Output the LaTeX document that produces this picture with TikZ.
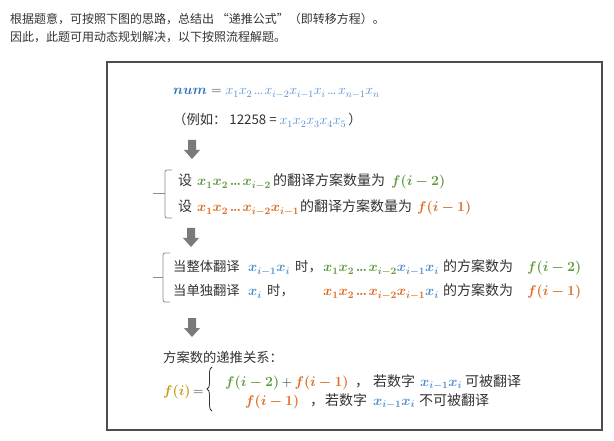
\RequirePackage{fix-cm}
\documentclass[tikz,border=0pt]{standalone}
\usepackage{amsmath}
\usepackage{bm}
\usepackage{fontspec}
\newfontfamily\cjk{Noto Sans CJK SC}
\usetikzlibrary{decorations.pathreplacing}
\definecolor{textgray}{HTML}{333333}
\definecolor{numblue}{HTML}{2E75B6}
\definecolor{xblue}{HTML}{4F8FD0}
\definecolor{xgreen}{HTML}{5E9A3C}
\definecolor{xorange}{HTML}{DD6A22}
\definecolor{xgold}{HTML}{C49A12}
\definecolor{arrowgray}{HTML}{7A7A7A}
\definecolor{bracegray}{HTML}{8C8C8C}
\definecolor{framegray}{HTML}{4D4D4D}
\newcommand{\mth}[1]{{\fontsize{14}{16}\selectfont$#1$}}
\newcommand{\dts}{\mathord{\kern1.5pt.\kern-1pt.\kern-1pt.\kern1.5pt}}
\tikzset{
  hdr/.style={anchor=base west, inner sep=0pt, text=textgray, font=\cjk\fontsize{12}{14}\selectfont},
  txt/.style={anchor=base west, inner sep=0pt, text=textgray, font=\cjk\fontsize{14}{16}\selectfont},
  smalltxt/.style={txt, font=\cjk\fontsize{13.3}{15}\selectfont},
  blockarrow/.style={fill=arrowgray, draw=none},
  bracket/.style={draw=bracegray, line width=0.8pt, rounded corners=2pt},
  frame/.style={draw=framegray, line width=1.3pt, fill=white},
  curly/.style={draw=textgray, line width=0.8pt, decorate, decoration={brace, amplitude=5pt, aspect=0.5}}
}
\newcommand{\downarrowblock}[2]{% x, ytop
  \fill[blockarrow] (#1-4,#2) -- (#1+4,#2) -- (#1+4,#2+10) -- (#1+8,#2+10) -- (#1,#2+19) -- (#1-8,#2+10) -- (#1-4,#2+10) -- cycle;}
\begin{document}
\begin{tikzpicture}[x=1pt,y=-1pt]
\useasboundingbox[fill=white] (0,0) rectangle (614,441);
% header
\node[hdr] (h1) at (10,24) {根据题意，可按照下图的思路，总结出 “递推公式”（即转移方程）。};
\node[hdr] (h2) at (10,42) {因此，此题可用动态规划解决，以下按照流程解题。};
% frame
\draw[frame] (107,62) rectangle (602,430);
% num line
\node[txt] (num) at (173,95) {\textcolor{numblue}{\mth{\bm{num}}}\mth{\;=\;}\textcolor{xblue}{\mth{x_1x_2\dts x_{i-2}x_{i-1}x_i\dts x_{n-1}x_n}}};
\node[smalltxt] (eg) at (173,125) {（例如：\hspace{3pt}12258 = \textcolor{xblue}{\mth{x_1x_2x_3x_4x_5}}\hspace{2pt}）};
% arrow 1
\downarrowblock{192}{140}
% brace 1
\draw[bracket] (172,170) -- (165,170) -- (165,218) -- (172,218);
\draw[bracket] (165,193) -- (153,193);
\node[txt] (a1) at (178,186) {设};
\node[txt] (a2) at (197,186) {\textcolor{xgreen}{\mth{\bm{x_1x_2\dts x_{i-2}}}}};
\node[txt] (a3) at (273,186) {的翻译方案数量为};
\node[txt] (a4) at (391,186) {\textcolor{xgreen}{\mth{\bm{f(i-2)}}}};
\node[txt] (b1) at (178,212) {设};
\node[txt] (b2) at (197,212) {\textcolor{xorange}{\mth{\bm{x_1x_2\dts x_{i-2}x_{i-1}}}}};
\node[txt] (b3) at (300,212) {的翻译方案数量为};
\node[txt] (b4) at (417,212) {\textcolor{xorange}{\mth{\bm{f(i-1)}}}};
% arrow 2
\downarrowblock{191}{228}
% brace 2
\draw[bracket] (170,253) -- (163,253) -- (163,302) -- (170,302);
\draw[bracket] (163,277) -- (153,277);
\node[smalltxt] (c1) at (173,272) {当整体翻译};
\node[txt] (c2) at (248,272) {\textcolor{xblue}{\mth{\bm{x_{i-1}x_i}}}};
\node[smalltxt] (c3) at (295,272) {时，};
\node[txt] (c4) at (323,272) {\textcolor{xgreen}{\mth{\bm{x_1x_2\dts x_{i-2}}}}\textcolor{xblue}{\mth{\bm{x_{i-1}x_i}}}};
\node[txt] (c5) at (443,272) {的方案数为};
\node[txt] (c6) at (527,272) {\textcolor{xgreen}{\mth{\bm{f(i-2)}}}};
\node[smalltxt] (d1) at (173,296) {当单独翻译};
\node[txt] (d2) at (248,296) {\textcolor{xblue}{\mth{\bm{x_i}}}};
\node[smalltxt] (d3) at (267,296) {时，};
\node[txt] (d4) at (323,296) {\textcolor{xorange}{\mth{\bm{x_1x_2\dts x_{i-2}x_{i-1}}}}\textcolor{xblue}{\mth{\bm{x_i}}}};
\node[txt] (d5) at (443,296) {的方案数为};
\node[txt] (d6) at (527,296) {\textcolor{xorange}{\mth{\bm{f(i-1)}}}};
% arrow 3
\downarrowblock{192}{318}
% recurrence
\node[smalltxt] (e0) at (163,362) {方案数的递推关系：};
\node[txt] (f0) at (163,395) {\textcolor{xgold}{\mth{\bm{f(i)}}}\mth{\,=}};
\coordinate (brb) at (212,411);
\coordinate (brt) at (212,367);
\draw[curly] (brb) -- (brt);
\node[txt] (g1) at (225,386) {\textcolor{xgreen}{\mth{\bm{f(i-2)}}}\mth{\,+\,}\textcolor{xorange}{\mth{\bm{f(i-1)}}}};
\node[txt] (g2) at (355,386) {，};
\node[txt] (g3) at (373,386) {若数字};
\node[txt] (g4) at (420,386) {\textcolor{xblue}{\mth{\bm{x_{i-1}x_i}}}};
\node[txt] (g5) at (465,386) {可被翻译};
\node[txt] (k1) at (245,405) {\textcolor{xorange}{\mth{\bm{f(i-1)}}}};
\node[txt] (k2) at (310,405) {，};
\node[txt] (k3) at (325,405) {若数字};
\node[txt] (k4) at (373,405) {\textcolor{xblue}{\mth{\bm{x_{i-1}x_i}}}};
\node[txt] (k5) at (419,405) {不可被翻译};
\end{tikzpicture}
\end{document}
